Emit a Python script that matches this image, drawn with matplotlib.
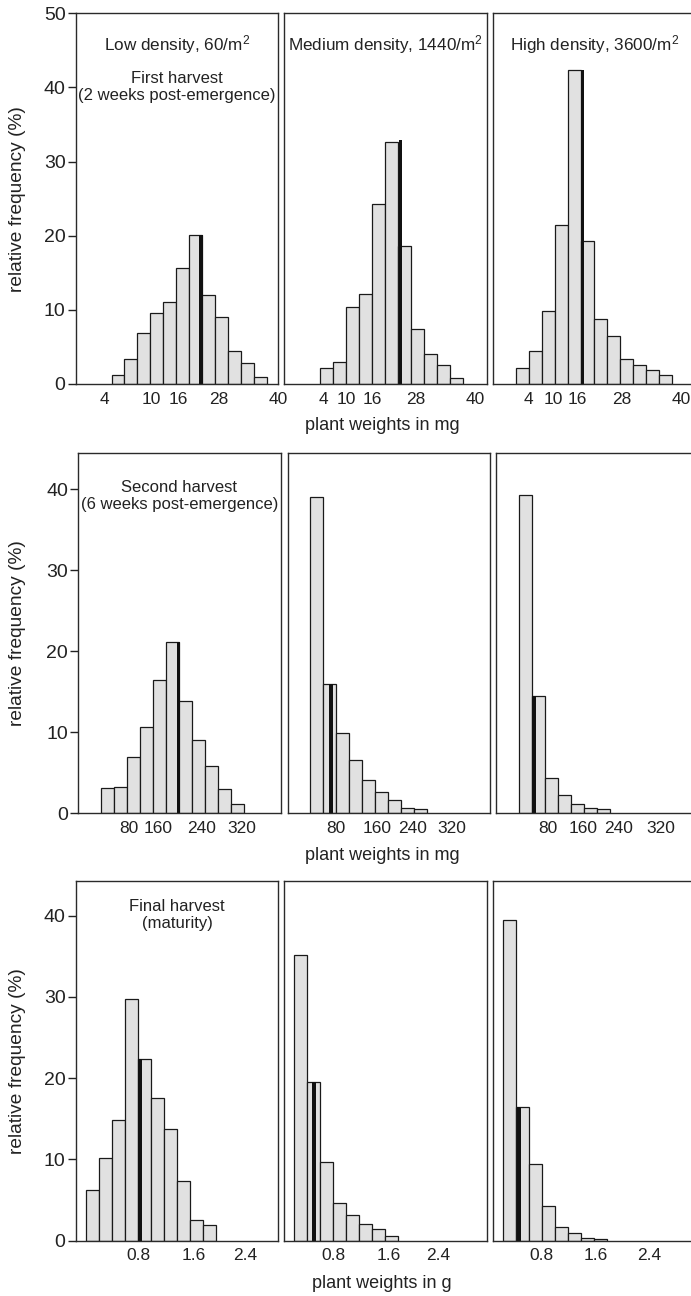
import numpy as np
import matplotlib
matplotlib.use('Agg')
from matplotlib import pyplot as plt

plt.rcParams['font.family'] = ['Liberation Sans', 'DejaVu Sans']
plt.rcParams['mathtext.fontset'] = 'custom'
plt.rcParams['mathtext.rm'] = 'Liberation Sans'
plt.rcParams['mathtext.it'] = 'Liberation Sans:italic'
plt.rcParams['text.color'] = '#222222'
plt.rcParams['xtick.color'] = '#222222'
plt.rcParams['ytick.color'] = '#222222'

# relative frequency (%) per weight class, low / medium / high density
first_low = [1.2, 3.4, 6.9, 9.6, 11.1, 15.6, 20.1, 12.0, 9.1, 4.5, 2.8, 0.9]
first_med = [2.2, 3.0, 10.4, 12.2, 24.3, 32.7, 18.6, 7.4, 4.0, 2.5, 0.8]
first_high = [2.2, 4.4, 9.8, 21.5, 42.3, 19.3, 8.8, 6.5, 3.4, 2.6, 1.9, 1.2]

second_low = [3.1, 3.3, 6.9, 10.6, 16.4, 21.2, 13.8, 9.1, 5.8, 3.0, 1.1]
second_med = [39.0, 16.0, 9.9, 6.6, 4.1, 2.6, 1.6, 0.7, 0.5]
second_high = [39.3, 14.5, 4.4, 2.2, 1.1, 0.7, 0.5]

final_low = [6.3, 10.2, 14.9, 29.8, 22.3, 17.6, 13.8, 7.3, 2.6, 1.9]
final_med = [35.2, 19.5, 9.7, 4.7, 3.2, 2.1, 1.5, 0.6]
final_high = [39.5, 16.4, 9.4, 4.3, 1.7, 1.0, 0.3, 0.2]

# mean marker: position in bin units from the first class, and its height
first_mean_x = [6.92, 6.19, 5.11]
first_mean_h = [20.1, 32.9, 42.3]
second_mean_x = [5.96, 1.55, 1.19]
second_mean_h = [21.2, 16.0, 14.5]
final_mean_x = [4.15, 1.5, 1.18]
final_mean_h = [22.3, 19.5, 16.4]

# tick labels
first_ticks = ['4', '10', '16', '28', '40']
second_ticks = ['80', '160', '240', '320']
final_ticks = ['0.8', '1.6', '2.4']

densities = ['Low density, 60/m$^2$', 'Medium density, 1440/m$^2$',
             'High density, 3600/m$^2$']
harvests = ['First harvest\n(2 weeks post-emergence)',
            'Second harvest\n(6 weeks post-emergence)',
            'Final harvest\n(maturity)']
units = ['plant weights in mg', 'plant weights in mg', 'plant weights in g']

# layout (pixels of a 691x1296 figure)
W, H = 691.0, 1296.0
panel_w = 202.3
bin_px = 13.0
rows = [
    dict(top=13.3, bottom=384.0, lefts=[76.0, 284.3, 493.3], ymax=50, xmin=-0.75,
         first=[2, 2, 1], unit_y=426, harvest_y=87,
         tickpos=[[1.43, 5.10, 7.13, 10.33, 14.9],
                  [2.23, 4.00, 6.03, 9.35, 13.92],
                  [1.92, 3.84, 5.71, 9.10, 13.69]]),
    dict(top=452.7, bottom=813.3, lefts=[78.3, 287.7, 496.0], ymax=44.5, xmin=-0.75,
         first=[1, 1, 1], unit_y=856, harvest_y=496,
         tickpos=[[3.12, 5.36, 8.75, 11.8],
                  [2.97, 6.10, 8.89, 11.85],
                  [3.22, 5.93, 8.71, 11.93]]),
    dict(top=880.7, bottom=1240.7, lefts=[76.0, 284.3, 493.3], ymax=44.3, xmin=-0.77,
         first=[0, 0, 0], unit_y=1284, harvest_y=915,
         tickpos=[[4.06, 8.29, 12.26],
                  [3.01, 7.25, 11.08],
                  [2.97, 7.10, 11.21]]),
]

data = [[first_low, first_med, first_high],
        [second_low, second_med, second_high],
        [final_low, final_med, final_high]]
means_x = [first_mean_x, second_mean_x, final_mean_x]
means_h = [first_mean_h, second_mean_h, final_mean_h]
ticklabels = [first_ticks, second_ticks, final_ticks]

fig = plt.figure(figsize=(W / 100, H / 100), dpi=100)

for r, row in enumerate(rows):
    h_px = row['bottom'] - row['top']
    for c in range(3):
        ax = fig.add_axes([row['lefts'][c] / W, 1 - row['bottom'] / H,
                           panel_w / W, h_px / H])
        vals = data[r][c]
        x0 = row['first'][c]
        ax.bar(x0 + np.arange(len(vals)), vals, width=1, align='edge',
               color='#e1e1e1', edgecolor='#1a1a1a', linewidth=0.9)
        ax.bar(x0 + means_x[r][c], means_h[r][c], width=0.3,
               color='#111111', linewidth=0)

        ax.set_xlim(row['xmin'], row['xmin'] + panel_w / bin_px)
        ax.set_ylim(0, row['ymax'])
        for s in ax.spines.values():
            s.set_color('#2a2a2a')
            s.set_linewidth(1.0)

        ax.set_xticks(row['tickpos'][c])
        ax.set_xticklabels(ticklabels[r])
        ax.tick_params(axis='x', length=0, pad=5.5, labelsize=12.5)
        if c == 0:
            ax.set_yticks(np.arange(0, row['ymax'] + 0.1, 10))
            ax.tick_params(axis='y', length=5.5, width=1.0, pad=2,
                           labelsize=14)
        else:
            ax.set_yticks([])

        if r == 0:
            ax.text(0.5, 1 - (45 - row['top']) / h_px, densities[c],
                    transform=ax.transAxes, ha='center', va='center',
                    fontsize=12.3)
        if c == 0:
            ax.text(0.5, 1 - (row['harvest_y'] - row['top']) / h_px,
                    harvests[r], transform=ax.transAxes, ha='center',
                    va='center', fontsize=12, linespacing=1.2)

    # etiquetas de los ejes
    fig.text(18 / W, 1 - (row['top'] + row['bottom']) / 2 / H,
             'relative frequency (%)', rotation=90, ha='center',
             va='center', fontsize=13.8)
    fig.text(382 / W, 1 - row['unit_y'] / H, units[r], ha='center',
             va='center', fontsize=13)

fig.savefig('out.png', dpi=100)
